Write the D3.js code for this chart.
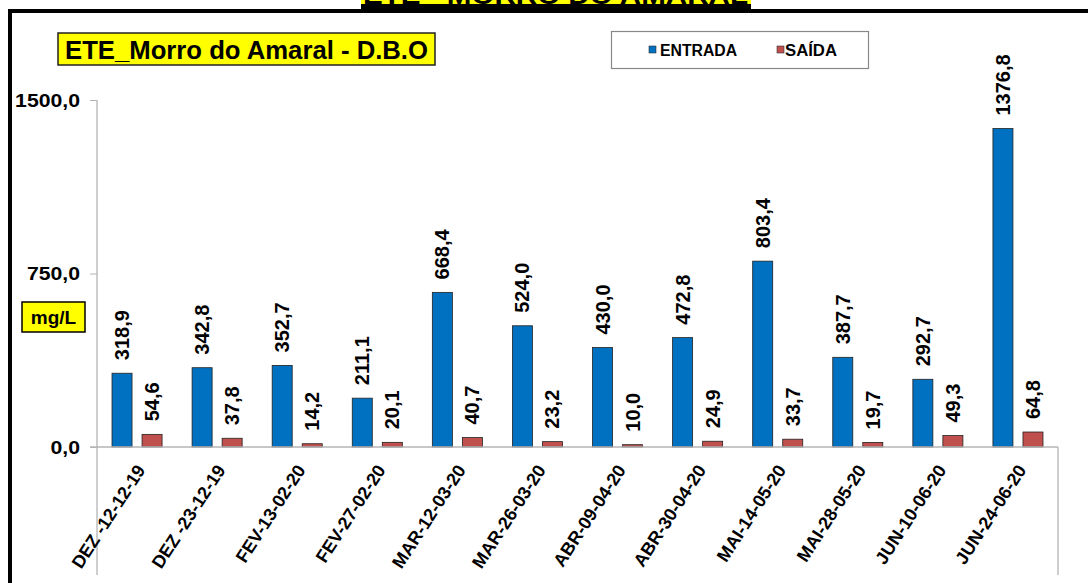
<!DOCTYPE html>
<html>
<head>
<meta charset="utf-8">
<script src="https://cdn.jsdelivr.net/npm/d3@7"></script>
<style>
  html, body { margin: 0; padding: 0; background: #fff; }
  svg { display: block; font-family: "Liberation Sans", Arial, sans-serif; }
</style>
</head>
<body>
<svg id="chart" width="1088" height="583"></svg>
<script>
const categories = ["DEZ -12-12-19","DEZ -23-12-19","FEV-13-02-20","FEV-27-02-20","MAR-12-03-20","MAR-26-03-20","ABR-09-04-20","ABR-30-04-20","MAI-14-05-20","MAI-28-05-20","JUN-10-06-20","JUN-24-06-20"];
const entrada = [318.9, 342.8, 352.7, 211.1, 668.4, 524.0, 430.0, 472.8, 803.4, 387.7, 292.7, 1376.8];
const saida = [54.6, 37.8, 14.2, 20.1, 40.7, 23.2, 10.0, 24.9, 33.7, 19.7, 49.3, 64.8];
const seriesNames = ["ENTRADA", "SAÍDA"];
const yTicks = [0, 750, 1500];
const chartTitle = "ETE_Morro do Amaral - D.B.O";
const topTitle = "ETE - MORRO DO AMARAL";
const unitLabel = "mg/L";

const colors = { "ENTRADA": "#0070C0", "SAÍDA": "#C0504D" };
const fmt = v => d3.format(".1f")(v).replace(".", ",");

const svg = d3.select("#chart");

// top title (cut off at the top edge, as in the reference)
svg.append("rect").attr("x", 361).attr("y", -30).attr("width", 390).attr("height", 34).attr("fill", "#FFFF00");
svg.append("text").attr("x", 363).attr("y", 4).attr("font-weight", "bold").attr("font-size", 26)
  .attr("textLength", 385).attr("lengthAdjust", "spacingAndGlyphs").text(topTitle);
svg.append("rect").attr("x", 361).attr("y", 4).attr("width", 390).attr("height", 6).attr("fill", "#000");

// frame
svg.append("rect").attr("x", 10).attr("y", 11).attr("width", 1100).attr("height", 600)
  .attr("fill", "none").attr("stroke", "#000").attr("stroke-width", 4);

const pLeft = 97, pRight = 1058, pTop = 100, pBottom = 447;

const y = d3.scaleLinear().domain([0, 1500]).range([pBottom, pTop]);
const x0 = d3.scaleBand().domain(categories).range([pLeft, pRight]).paddingInner(0.375).paddingOuter(0.1875);
const x1 = d3.scaleBand().domain(seriesNames).range([0, x0.bandwidth()]).paddingInner(1/3).paddingOuter(0);

// axis lines
const axisColor = "#b4b4b4";
const yAxis = d3.axisLeft(y).tickValues(yTicks).tickSize(7).tickFormat("");
const gy = svg.append("g").attr("transform", `translate(${pLeft},0)`).call(yAxis);
gy.select(".domain").remove();
gy.selectAll(".tick line").attr("stroke", axisColor);
svg.append("line").attr("x1", pLeft).attr("x2", pLeft).attr("y1", pTop).attr("y2", 575).attr("stroke", axisColor).attr("stroke-width", 1.3);
svg.append("line").attr("x1", pRight).attr("x2", pRight).attr("y1", pBottom).attr("y2", 575).attr("stroke", axisColor).attr("stroke-width", 1.3);

// y tick labels
svg.selectAll(".ylab").data(yTicks).enter().append("text")
  .attr("transform", d => `translate(80,${y(d) + 6.5}) scale(1.18,1)`)
  .attr("text-anchor", "end").attr("font-weight", "bold").attr("font-size", 18)
  .text(d => fmt(d));

// bars
const data = categories.map((c, i) => ({ cat: c, vals: [
  { key: "ENTRADA", v: entrada[i] }, { key: "SAÍDA", v: saida[i] } ] }));

const groups = svg.selectAll(".grp").data(data).enter().append("g")
  .attr("transform", d => `translate(${x0(d.cat)},0)`);
groups.selectAll("rect").data(d => d.vals).enter().append("rect")
  .attr("x", d => x1(d.key)).attr("width", x1.bandwidth())
  .attr("y", d => y(d.v)).attr("height", d => y(0) - y(d.v))
  .attr("fill", d => colors[d.key]).attr("stroke", "#222").attr("stroke-width", 0.8);
groups.selectAll("text").data(d => d.vals).enter().append("text")
  .attr("transform", d => `translate(${x1(d.key) + x1.bandwidth() / 2 + 7},${y(d.v) - 13}) rotate(-90)`)
  .attr("font-weight", "bold").attr("font-size", 20).attr("text-anchor", "start")
  .text(d => fmt(d.v));

// x axis line
svg.append("line").attr("x1", 90).attr("x2", pRight).attr("y1", pBottom).attr("y2", pBottom).attr("stroke", axisColor).attr("stroke-width", 1.3);

// category labels
svg.selectAll(".xlab").data(categories).enter().append("text")
  .attr("transform", d => `translate(${x0(d) + x0.bandwidth() / 2 + 9},470) rotate(-57)`)
  .attr("text-anchor", "end").attr("font-weight", "bold").attr("font-size", 18)
  .text(d => d);

// chart title box
svg.append("rect").attr("x", 58).attr("y", 33).attr("width", 377).attr("height", 32)
  .attr("fill", "#FFFF00").attr("stroke", "#222").attr("stroke-width", 1.5);
svg.append("text").attr("x", 65).attr("y", 58.5).attr("font-weight", "bold").attr("font-size", 25)
  .attr("font-family", "'Liberation Sans Narrow', 'Arial Narrow', 'Liberation Sans', sans-serif")
  .attr("textLength", 363).attr("lengthAdjust", "spacingAndGlyphs").text(chartTitle);

// unit box
svg.append("rect").attr("x", 22).attr("y", 302).attr("width", 63).attr("height", 30)
  .attr("fill", "#FFFF00").attr("stroke", "#000").attr("stroke-width", 1.5);
svg.append("text").attr("x", 53.5).attr("y", 324).attr("text-anchor", "middle")
  .attr("font-weight", "bold").attr("font-size", 19).text(unitLabel);

// legend
const lg = svg.append("g");
lg.append("rect").attr("x", 611.5).attr("y", 31.5).attr("width", 257).attr("height", 37)
  .attr("fill", "#fff").attr("stroke", "#888").attr("stroke-width", 1.2);
const legendPos = [{ k: "ENTRADA", sx: 649, tx: 660, tl: 77 }, { k: "SAÍDA", sx: 777, tx: 785, tl: 52 }];
legendPos.forEach(p => {
  lg.append("rect").attr("x", p.sx).attr("y", 46).attr("width", 7).attr("height", 7)
    .attr("fill", colors[p.k]).attr("stroke", "#333").attr("stroke-width", 0.6);
  lg.append("text").attr("x", p.tx).attr("y", 56).attr("font-weight", "bold").attr("font-size", 16)
    .attr("textLength", p.tl).attr("lengthAdjust", "spacingAndGlyphs").text(p.k);
});
</script>
</body>
</html>
